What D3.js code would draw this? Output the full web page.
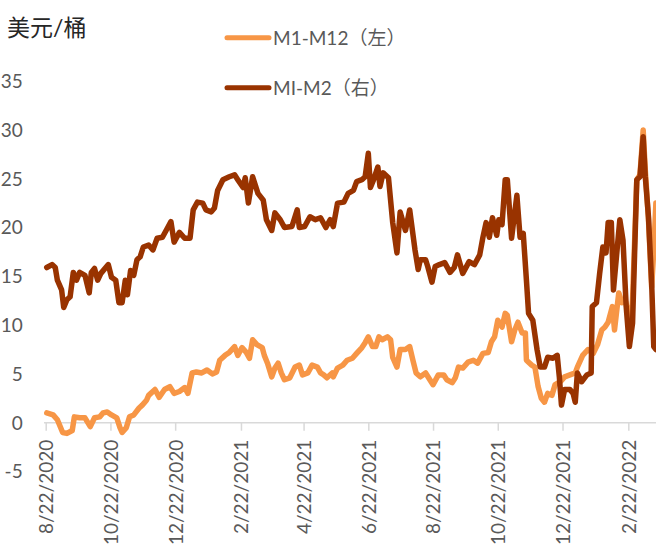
<!DOCTYPE html>
<html>
<head>
<meta charset="utf-8">
<script src="https://cdn.jsdelivr.net/npm/d3@7"></script>
<style>
  body { margin: 0; background: #fff; }
  svg { display: block; }
  text { font-family: Lato, "Noto Sans CJK SC", sans-serif; }
</style>
</head>
<body>
<svg id="chart" width="656" height="556"></svg>
<script>
// ---------- data ----------
const unitLabel = "美元/桶";
const seriesNames = ["M1-M12（左）", "MI-M2（右）"];
const tickDates = ["2020-08-22","2020-10-22","2020-12-22","2021-02-22","2021-04-22","2021-06-22","2021-08-22","2021-10-22","2021-12-22","2022-02-22"];
const yTicks = [-5, 0, 5, 10, 15, 20, 25, 30, 35];

const m12Dates = ["2020-08-23","2020-08-29","2020-09-02","2020-09-07","2020-09-11","2020-09-16","2020-09-18","2020-09-23","2020-09-28","2020-10-03",
"2020-10-07","2020-10-12","2020-10-15","2020-10-19","2020-10-23","2020-10-28","2020-10-31","2020-11-02","2020-11-06","2020-11-09",
"2020-11-13","2020-11-18","2020-11-21","2020-11-25","2020-11-27","2020-12-03","2020-12-07","2020-12-12","2020-12-17","2020-12-21",
"2020-12-26","2020-12-31","2021-01-03","2021-01-07","2021-01-11","2021-01-16","2021-01-21","2021-01-26","2021-01-30","2021-02-02",
"2021-02-07","2021-02-11","2021-02-16","2021-02-19","2021-02-23","2021-02-27","2021-03-02","2021-03-05","2021-03-09","2021-03-14",
"2021-03-16","2021-03-19","2021-03-23","2021-03-26","2021-03-29","2021-04-01","2021-04-04","2021-04-09","2021-04-14","2021-04-18",
"2021-04-21","2021-04-26","2021-04-30","2021-05-05","2021-05-08","2021-05-11","2021-05-14","2021-05-19","2021-05-20","2021-05-24",
"2021-05-29","2021-06-02","2021-06-07","2021-06-11","2021-06-16","2021-06-19","2021-06-22","2021-06-26","2021-06-29","2021-07-02",
"2021-07-05","2021-07-10","2021-07-13","2021-07-15","2021-07-19","2021-07-22","2021-07-27","2021-07-31","2021-08-03","2021-08-06",
"2021-08-10","2021-08-15","2021-08-19","2021-08-22","2021-08-27","2021-09-01","2021-09-04","2021-09-09","2021-09-12","2021-09-15",
"2021-09-19","2021-09-24","2021-09-29","2021-10-03","2021-10-08","2021-10-13","2021-10-16","2021-10-19","2021-10-22","2021-10-26",
"2021-10-29","2021-10-31","2021-11-04","2021-11-07","2021-11-10","2021-11-14","2021-11-17","2021-11-18","2021-11-23","2021-11-26",
"2021-11-29","2021-12-02","2021-12-05","2021-12-08","2021-12-12","2021-12-15","2021-12-20","2021-12-24","2021-12-29","2022-01-03",
"2022-01-05","2022-01-10","2022-01-15","2022-01-20","2022-01-24","2022-01-28","2022-01-31","2022-02-03","2022-02-07","2022-02-09",
"2022-02-13","2022-02-16","2022-02-19","2022-02-22","2022-02-24","2022-02-26","2022-03-02","2022-03-05","2022-03-08","2022-03-10",
"2022-03-13","2022-03-16","2022-03-18","2022-03-20"];
const m12Values = [1.0,0.8,0.3,-1.0,-1.1,-0.8,0.6,0.5,0.5,-0.4,
0.5,0.6,1.0,1.1,0.8,0.5,-0.5,-1.0,-0.5,0.6,
0.8,1.5,1.8,2.3,2.8,3.4,2.6,3.4,3.7,3.0,
3.2,3.6,3.0,5.1,5.2,5.1,5.4,5.0,5.2,6.4,
6.9,7.2,7.8,6.9,7.7,7.2,6.6,8.5,8.0,7.7,
6.9,6.1,4.7,5.6,6.1,5.1,4.4,4.6,5.7,5.9,
4.9,5.1,5.9,5.7,5.1,4.9,4.6,5.1,4.7,5.6,
5.9,6.4,6.6,7.1,7.7,8.2,8.8,7.8,7.8,8.8,
8.5,8.8,8.5,6.7,5.7,7.5,7.5,7.8,6.4,5.1,
4.7,5.1,4.4,3.9,4.9,4.9,4.4,4.1,4.6,5.7,
5.6,6.2,6.4,6.1,7.1,7.2,8.3,8.8,10.5,9.8,
11.2,11.0,8.3,9.5,10.3,9.2,9.2,6.4,5.9,5.7,
3.7,2.5,2.1,3.0,2.8,3.9,4.2,4.7,4.9,5.1,
5.7,6.9,7.5,7.1,8.0,9.5,9.8,10.3,11.9,9.5,
13.3,12.3,12.6,11.2,9.8,12.6,24.9,25.4,30.0,25.9,
20.8,13.9,17.7,22.5];

const m2Dates = ["2020-08-23","2020-08-28","2020-08-31","2020-09-02","2020-09-06","2020-09-08","2020-09-11","2020-09-14","2020-09-17","2020-09-20",
"2020-09-23","2020-09-28","2020-10-02","2020-10-04","2020-10-07","2020-10-10","2020-10-13","2020-10-20","2020-10-23","2020-10-27",
"2020-10-30","2020-11-02","2020-11-05","2020-11-07","2020-11-10","2020-11-13","2020-11-16","2020-11-19","2020-11-22","2020-11-27",
"2020-12-01","2020-12-05","2020-12-10","2020-12-15","2020-12-18","2020-12-21","2020-12-26","2020-12-31","2021-01-05","2021-01-08",
"2021-01-12","2021-01-17","2021-01-20","2021-01-25","2021-01-28","2021-01-31","2021-02-05","2021-02-11","2021-02-16","2021-02-19",
"2021-02-24","2021-02-26","2021-03-01","2021-03-05","2021-03-10","2021-03-15","2021-03-18","2021-03-23","2021-03-26","2021-03-31",
"2021-04-04","2021-04-11","2021-04-16","2021-04-18","2021-04-23","2021-04-28","2021-05-03","2021-05-08","2021-05-13","2021-05-17",
"2021-05-20","2021-05-24","2021-05-30","2021-06-03","2021-06-08","2021-06-11","2021-06-16","2021-06-19","2021-06-22","2021-06-24",
"2021-06-27","2021-07-01","2021-07-03","2021-07-06","2021-07-11","2021-07-15","2021-07-19","2021-07-22","2021-07-27","2021-07-31",
"2021-08-05","2021-08-08","2021-08-10","2021-08-15","2021-08-17","2021-08-21","2021-08-24","2021-08-28","2021-09-02","2021-09-07",
"2021-09-11","2021-09-14","2021-09-19","2021-09-25","2021-09-30","2021-10-05","2021-10-08","2021-10-11","2021-10-14","2021-10-17",
"2021-10-21","2021-10-23","2021-10-26","2021-10-29","2021-10-31","2021-11-04","2021-11-09","2021-11-12","2021-11-15","2021-11-18",
"2021-11-20","2021-11-24","2021-11-28","2021-12-01","2021-12-05","2021-12-08","2021-12-13","2021-12-17","2021-12-19","2021-12-21",
"2021-12-24","2021-12-29","2022-01-01","2022-01-03","2022-01-05","2022-01-09","2022-01-14","2022-01-18","2022-01-19","2022-01-23",
"2022-01-26","2022-01-29","2022-02-01","2022-02-03","2022-02-06","2022-02-08","2022-02-12","2022-02-14","2022-02-17","2022-02-20",
"2022-02-23","2022-02-26","2022-03-02","2022-03-05","2022-03-08","2022-03-10","2022-03-13","2022-03-16","2022-03-18","2022-03-20"];
const m2Values = [15.9,16.2,15.9,14.6,13.6,11.8,12.6,12.9,15.4,14.6,
15.4,15.1,13.3,15.4,15.8,14.6,15.3,16.2,14.9,14.6,
12.3,12.3,14.6,13.1,15.6,15.1,16.7,17.0,18.0,18.2,
17.7,18.9,19.0,20.0,20.6,18.5,19.5,18.9,18.9,21.8,
22.6,22.5,21.8,21.6,22.0,23.8,24.9,25.2,25.4,24.9,
24.1,25.1,22.5,25.2,23.5,22.8,20.8,19.7,21.5,20.8,
20.0,20.1,21.8,20.0,20.1,21.1,20.8,21.0,20.0,20.8,
20.1,22.5,22.6,23.5,23.8,24.7,24.9,25.2,27.6,24.1,
24.9,26.2,24.2,25.6,25.1,20.5,17.4,21.6,19.7,21.8,
17.7,15.7,16.7,16.7,16.0,14.4,16.0,16.2,16.4,15.4,
15.9,17.2,15.3,16.5,16.2,17.2,19.0,20.5,19.0,21.0,
19.2,20.8,20.3,24.9,24.9,18.9,23.3,19.0,19.4,14.6,
11.2,10.5,7.5,5.7,5.7,6.7,6.6,6.9,4.7,1.8,
3.4,3.4,3.0,2.1,5.1,4.2,4.9,5.1,11.9,12.3,
15.3,18.0,17.4,20.5,20.5,13.6,18.4,20.8,18.7,11.9,
7.8,10.2,24.9,25.2,29.3,25.2,21.1,14.3,7.8,7.5];

const colors = ["#F79646", "#993300"];

// ---------- chart ----------
const parse = d3.timeParse("%Y-%m-%d");
const svg = d3.select("#chart");

const x = d3.scaleTime()
  .domain([parse("2020-08-22"), parse("2022-03-20")])
  .range([45.7, 655.9]);
const y = d3.scaleLinear().domain([-5, 35]).range([471.5, 81.1]);

// title / unit
svg.append("text").attr("x", 7).attr("y", 36)
  .attr("font-family", "'Noto Sans CJK SC', sans-serif")
  .attr("font-size", 23).attr("fill", "#262626").text(unitLabel);

// y tick labels
svg.append("g").selectAll("text").data(yTicks).join("text")
  .attr("x", 22.7).attr("y", d => y(d)).attr("dy", "0.36em")
  .attr("text-anchor", "end").attr("font-size", 19).attr("fill", "#595959")
  .text(d => d);

// x axis
const xAxis = d3.axisBottom(x)
  .tickValues(tickDates.map(parse))
  .tickSize(8).tickSizeOuter(0)
  .tickFormat(d3.timeFormat("%-m/%-d/%Y"));
const gx = svg.append("g").attr("transform", `translate(0,${y(0)})`).call(xAxis);
gx.select(".domain").attr("stroke", "#d9d9d9").attr("stroke-width", 1.5)
  .attr("d", `M44,0H656`);
gx.selectAll(".tick line").attr("stroke", "#d9d9d9").attr("stroke-width", 1.5);
gx.selectAll(".tick text")
  .attr("font-family", "Lato, sans-serif")
  .attr("font-size", 19).attr("fill", "#595959")
  .attr("text-anchor", "end")
  .attr("transform", "rotate(-90)")
  .attr("x", -17).attr("y", 0).attr("dy", "0.36em");

// lines
const line = d3.line().x(d => x(d[0])).y(d => y(d[1])).curve(d3.curveLinear);
const series = [
  m12Dates.map((d, i) => [parse(d), m12Values[i]]),
  m2Dates.map((d, i) => [parse(d), m2Values[i]])
];
series.forEach((s, i) => {
  svg.append("path").datum(s)
    .attr("fill", "none").attr("stroke", colors[i])
    .attr("stroke-width", 5.5)
    .attr("stroke-linejoin", "round").attr("stroke-linecap", "round")
    .attr("d", line);
});

// legend
const legY = [37.7, 87.7];
seriesNames.forEach((name, i) => {
  svg.append("line").attr("x1", 227).attr("x2", 269)
    .attr("y1", legY[i]).attr("y2", legY[i])
    .attr("stroke", colors[i]).attr("stroke-width", 5).attr("stroke-linecap", "round");
  svg.append("text").attr("x", 273).attr("y", legY[i]).attr("dy", "0.36em")
    .attr("font-size", 19).attr("fill", "#595959").text(name);
});
</script>
</body>
</html>
